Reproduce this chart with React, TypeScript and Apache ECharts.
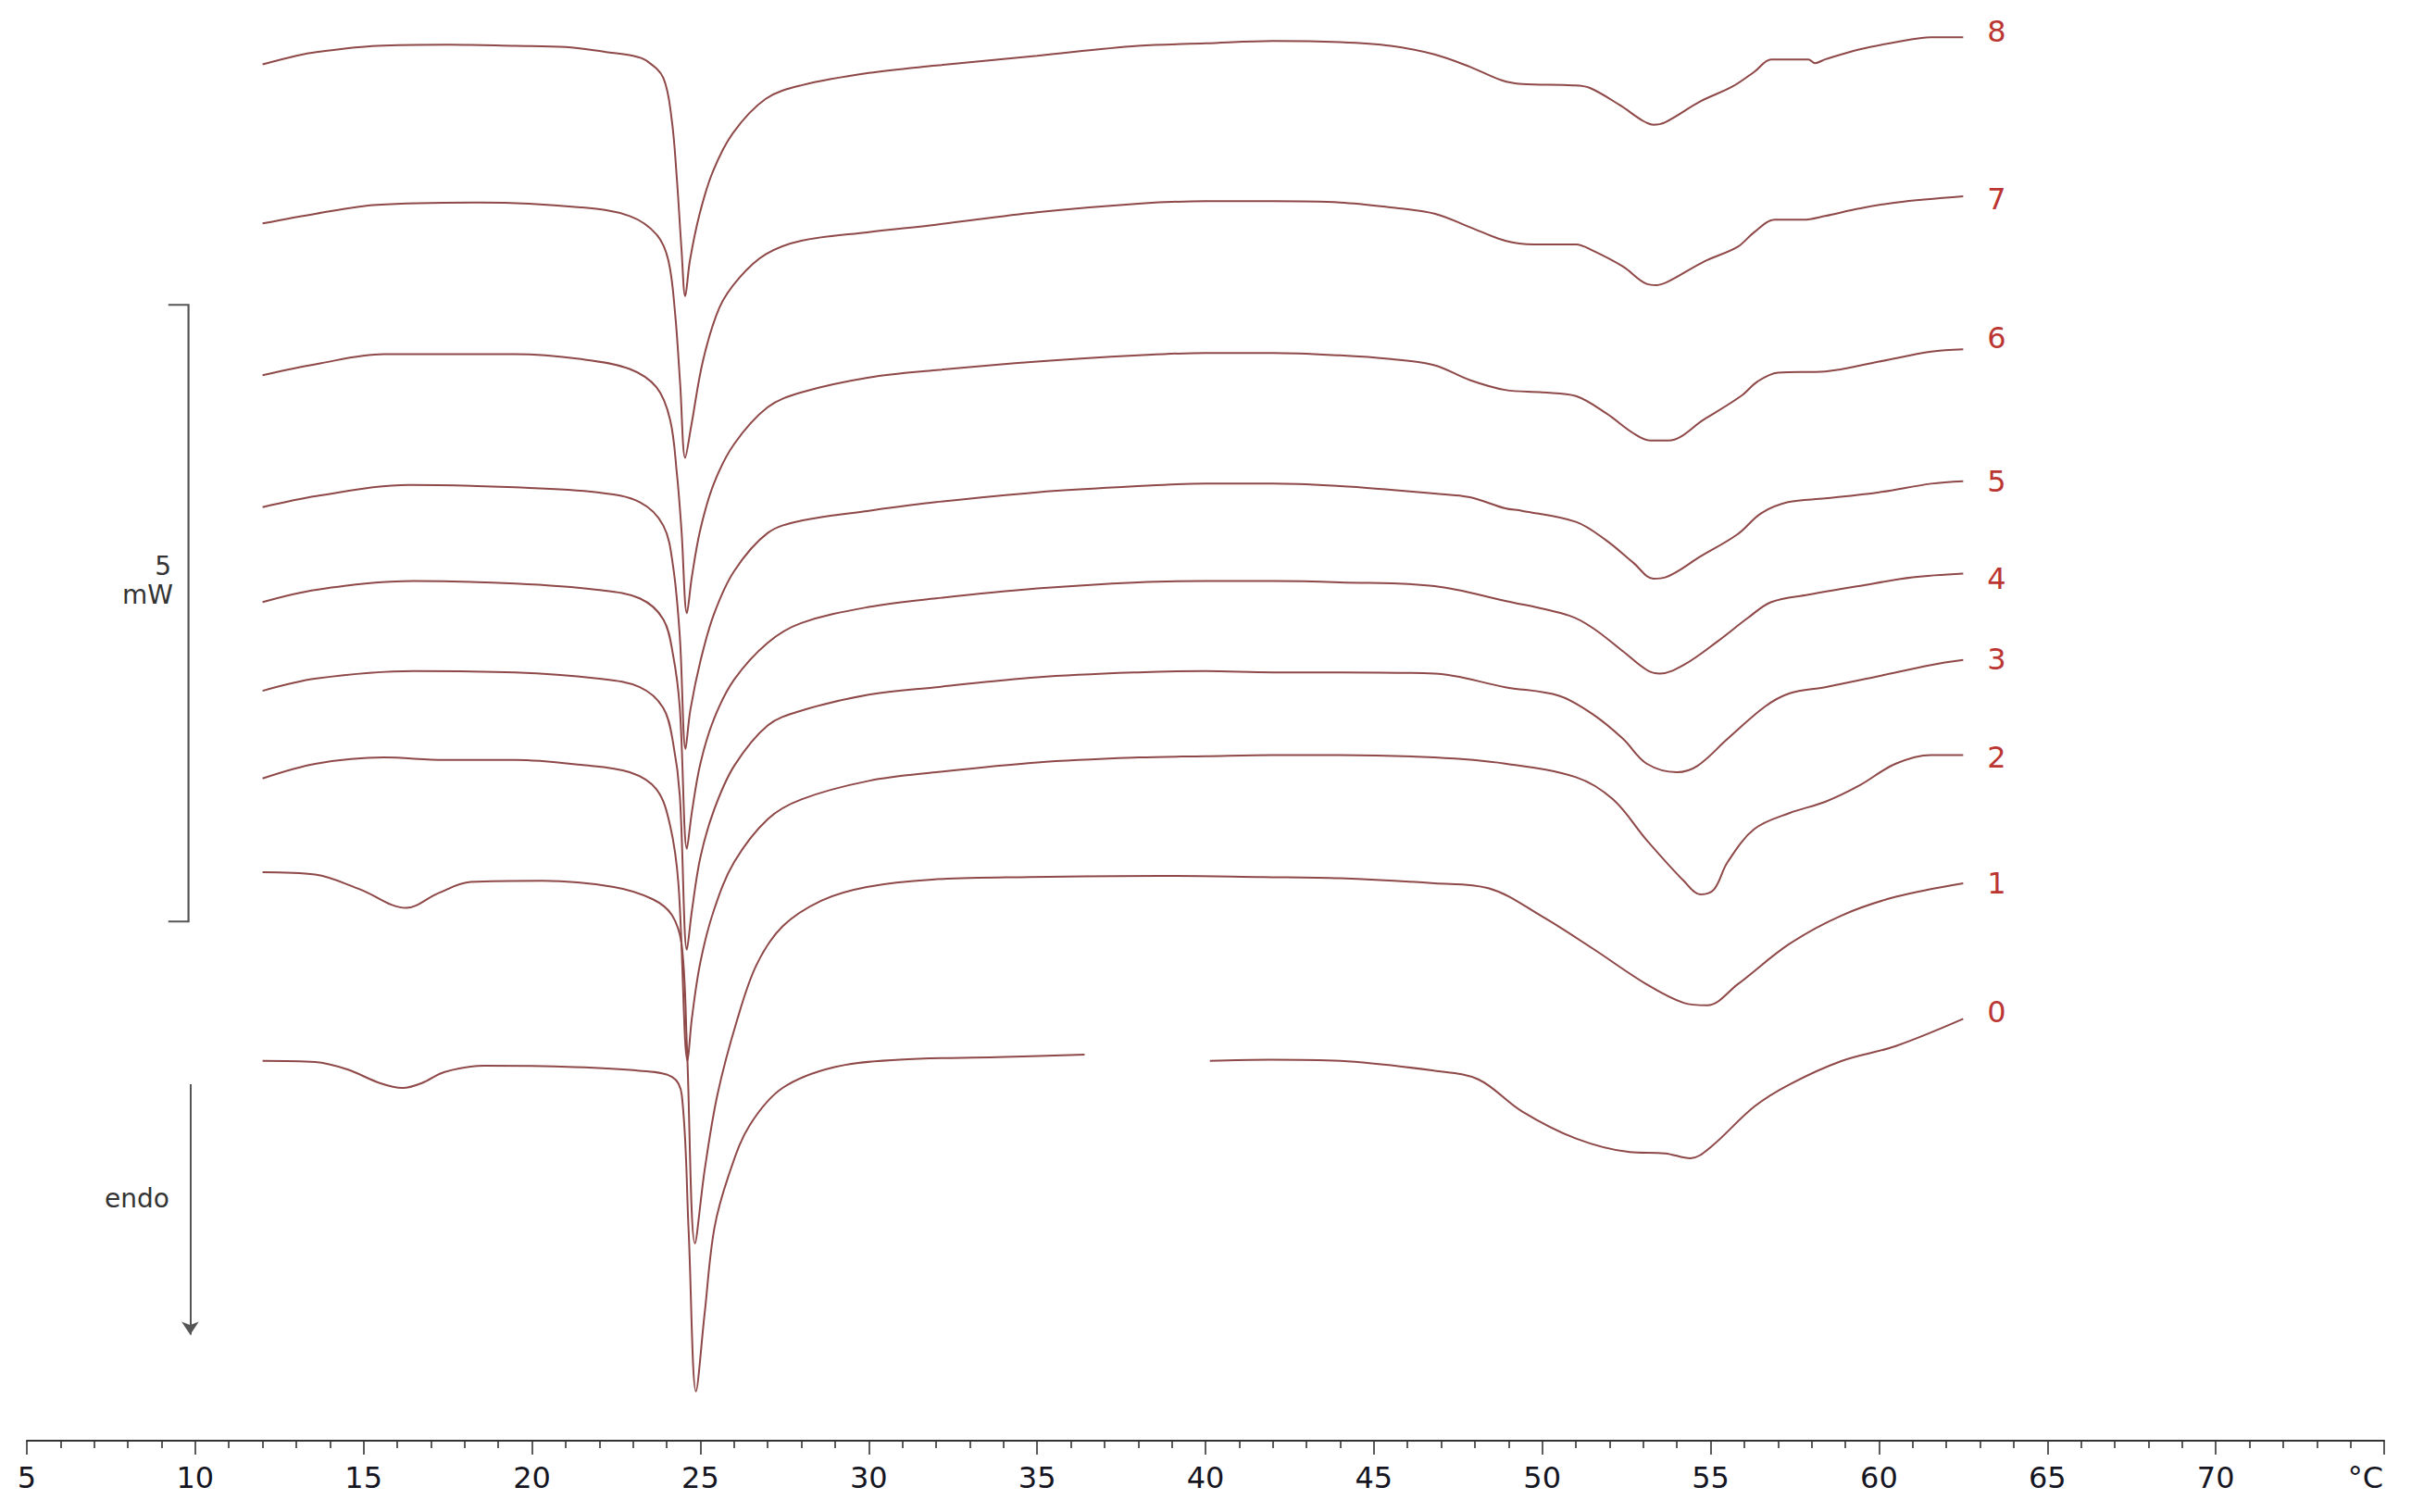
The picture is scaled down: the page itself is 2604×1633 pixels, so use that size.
import React, { useEffect, useRef } from "react";
import * as echarts from "echarts";

// Temperature (°C) vs heat flow (mW, curves stacked with offsets)
const curve8: (number | null)[][] = [[12,11.16],[13,11.23],[13.6,11.26],[15.4,11.31],[17.5,11.32],[19.5,11.31],[21,11.30],[22.2,11.26],[23,11.23],[23.4,11.19],[23.9,11.05],[24.15,10.71],[24.3,10.24],[24.44,9.66],[24.55,9.28],[24.69,9.57],[24.98,9.95],[25.37,10.29],[25.96,10.60],[26.94,10.88],[28,10.99],[30,11.09],[32,11.15],[35,11.23],[38,11.31],[40,11.33],[42,11.35],[44,11.34],[45.5,11.31],[46.8,11.24],[47.85,11.14],[48.8,11.03],[49.4,11.00],[50.9,10.99],[51.4,10.97],[52.3,10.83],[53,10.70],[53.3,10.67],[53.65,10.69],[54.7,10.86],[55.65,10.98],[56.3,11.10],[56.8,11.20],[57.9,11.20],[58.1,11.17],[58.4,11.20],[59.4,11.28],[60.5,11.34],[61.55,11.38],[62.5,11.38]];
const curve7: (number | null)[][] = [[12,9.87],[13.6,9.95],[15.4,10.02],[18.5,10.04],[21.45,10.00],[22.9,9.93],[23.7,9.78],[24.05,9.57],[24.25,9.14],[24.4,8.57],[24.55,7.97],[24.73,8.23],[25.08,8.76],[25.57,9.19],[26.16,9.43],[26.94,9.62],[28,9.73],[30,9.80],[32,9.86],[35,9.96],[38,10.03],[40,10.05],[42,10.05],[44,10.04],[45.5,10.00],[46.8,9.95],[47.85,9.84],[48.9,9.73],[49.75,9.70],[51,9.70],[51.5,9.65],[52.4,9.52],[53.1,9.38],[53.4,9.37],[53.75,9.40],[54.8,9.56],[55.8,9.68],[56.3,9.80],[56.9,9.90],[57.75,9.90],[58.4,9.93],[59.4,9.99],[60.5,10.04],[62.5,10.09]];
const curve6: (number | null)[][] = [[12,8.64],[13.6,8.73],[15.6,8.81],[19.5,8.81],[21.45,8.77],[22.9,8.69],[23.7,8.54],[24.1,8.28],[24.3,7.85],[24.44,7.38],[24.6,6.71],[24.75,7.01],[25,7.39],[25.4,7.76],[26,8.08],[27,8.38],[28,8.50],[30,8.62],[32,8.68],[35,8.75],[38,8.80],[40,8.82],[42,8.82],[44,8.80],[45.5,8.77],[46.8,8.72],[47.85,8.60],[48.9,8.52],[50,8.50],[51,8.47],[51.9,8.33],[52.7,8.17],[53.2,8.11],[53.75,8.11],[54.8,8.28],[55.9,8.47],[56.4,8.59],[57,8.66],[58.4,8.67],[60,8.75],[61.55,8.83],[62.5,8.85]];
const curve5: (number | null)[][] = [[12,7.57],[13.6,7.66],[16.35,7.75],[19.5,7.73],[21.94,7.69],[23.2,7.61],[23.9,7.42],[24.19,7.09],[24.39,6.52],[24.56,5.61],[24.7,5.92],[25,6.32],[25.4,6.70],[26,7.05],[27,7.36],[28,7.46],[30,7.54],[32,7.61],[35,7.69],[38,7.74],[40,7.76],[42,7.76],[44,7.74],[45.5,7.71],[46.8,7.68],[47.85,7.65],[48.9,7.56],[49.4,7.54],[51,7.45],[51.9,7.30],[52.7,7.12],[53.3,6.99],[53.65,7.00],[54.7,7.17],[55.8,7.35],[56.5,7.52],[57.3,7.61],[58.4,7.64],[60,7.69],[61.55,7.76],[62.5,7.78]];
const curve4: (number | null)[][] = [[12,6.80],[13.6,6.90],[16.5,6.97],[19.5,6.95],[21.94,6.90],[23.2,6.83],[23.9,6.66],[24.19,6.37],[24.39,5.94],[24.6,4.80],[24.75,5.10],[25,5.49],[25.4,5.85],[26,6.17],[27,6.47],[28,6.63],[30,6.76],[32,6.83],[35,6.91],[38,6.96],[40,6.97],[42,6.97],[44,6.96],[46.8,6.93],[48.9,6.81],[50.8,6.69],[51.5,6.59],[52.4,6.40],[53.1,6.25],[53.5,6.22],[54.2,6.29],[55.2,6.48],[56.1,6.67],[56.8,6.80],[57.9,6.86],[59.4,6.93],[61,7.00],[62.5,7.03]];
const curve3: (number | null)[][] = [[12,6.08],[13.6,6.18],[16.5,6.24],[19.5,6.23],[21.94,6.18],[23.2,6.11],[23.9,5.94],[24.19,5.66],[24.39,5.23],[24.6,3.98],[24.75,4.30],[25,4.73],[25.4,5.11],[26,5.47],[27,5.80],[28,5.92],[30,6.05],[32,6.11],[35,6.19],[38,6.23],[40,6.24],[42,6.23],[44,6.23],[46.8,6.22],[48.9,6.11],[50.5,6.04],[51.5,5.89],[52.4,5.69],[53.1,5.49],[54,5.42],[54.6,5.47],[55.5,5.69],[56.6,5.95],[57.35,6.06],[58.4,6.11],[60,6.20],[61.55,6.29],[62.5,6.33]];
const curve2: (number | null)[][] = [[12,5.37],[13.6,5.49],[15.6,5.54],[17.4,5.52],[19.5,5.52],[21.45,5.48],[22.9,5.42],[23.7,5.28],[24.1,4.99],[24.35,4.51],[24.62,3.08],[24.75,3.43],[25,3.88],[25.4,4.30],[26,4.69],[27,5.04],[28,5.20],[30,5.35],[32,5.42],[35,5.50],[38,5.54],[40,5.55],[42,5.56],[44,5.56],[46.8,5.54],[48.9,5.49],[51,5.38],[52.1,5.20],[53.1,4.87],[54.2,4.54],[54.7,4.43],[55.1,4.47],[55.5,4.69],[56.3,4.96],[57.35,5.09],[58.4,5.18],[59.4,5.31],[60.5,5.49],[61.55,5.56],[62.5,5.56]];
const curve1: (number | null)[][] = [[12,4.61],[13.56,4.59],[14.9,4.47],[16.26,4.32],[17.22,4.44],[18.18,4.53],[20.31,4.54],[22.43,4.49],[23.59,4.39],[24.16,4.26],[24.45,4.01],[24.6,3.20],[24.84,1.60],[25.13,2.20],[25.51,2.81],[26.09,3.41],[26.67,3.86],[27.44,4.17],[28.6,4.38],[29.94,4.49],[31.88,4.55],[34.77,4.57],[38.63,4.58],[41.7,4.57],[44,4.56],[46.8,4.52],[48.4,4.48],[50,4.25],[51.5,3.99],[53.1,3.70],[54.2,3.55],[54.9,3.53],[55.8,3.70],[57.35,4.03],[58.9,4.26],[60.5,4.41],[62.5,4.52]];
const curve0: (number | null)[][] = [[12,3.08],[13.56,3.07],[14.52,3.01],[15.48,2.90],[16.16,2.86],[16.73,2.90],[17.41,2.99],[18.57,3.04],[21.26,3.03],[23.19,3.00],[24.16,2.95],[24.45,2.80],[24.65,1.71],[24.87,0.40],[25.13,1.04],[25.42,1.73],[25.9,2.20],[26.47,2.56],[27.44,2.86],[28.98,3.03],[30.91,3.09],[33.8,3.11],[36.41,3.13],[38,null],[40.13,3.08],[41.9,3.09],[44,3.08],[46.8,3.00],[48.1,2.93],[49.4,2.67],[51,2.45],[52.6,2.34],[53.65,2.33],[54.4,2.29],[55,2.38],[56.3,2.71],[57.35,2.89],[58.9,3.08],[60.5,3.20],[62.5,3.42]];

const curveNames = ["8", "7", "6", "5", "4", "3", "2", "1", "0"];
const curves = [curve8, curve7, curve6, curve5, curve4, curve3, curve2, curve1, curve0];

// x axis: temperature in °C
const xMin = 5;
const xMax = 75;
const xStep = 5;
const unitLabel = "°C";

// scale bar (5 mW) and endo arrow, in axis units
const scaleBarX = 9.8;
const scaleBarTickX = 9.2;
const scaleBarBottom = 4.21;
const scaleBarSpan = 5;
const endoArrowX = 9.85;
const endoArrowFrom = 2.89;
const endoArrowTo = 0.86;

// label vertical nudges (px) — style only
const labelNudge = [-6, 3, -12, 0, 5, -1, 3, 0, -7];

const LINE_COLOR = "#8f4848";
const LABEL_RED = "#bb3532";
const INK = "#15151f";

export default function App() {
  const ref = useRef<HTMLDivElement>(null);

  useEffect(() => {
    if (!ref.current) return;
    const chart = echarts.init(ref.current, undefined, { renderer: "svg" });

    const curveSeries = curves.map((data, i) => ({
      type: "line",
      name: curveNames[i],
      data,
      showSymbol: false,
      symbol: "none",
      smooth: 0.35,
      connectNulls: false,
      lineStyle: { color: LINE_COLOR, width: 2 },
      itemStyle: { color: LINE_COLOR },
      endLabel: {
        show: true,
        formatter: "{a}",
        distance: 26,
        offset: [0, labelNudge[i]],
        color: LABEL_RED,
        fontSize: 32,
        fontFamily: "'DejaVu Sans', sans-serif",
      },
      z: 3,
    }));

    const option: any = {
      animation: false,
      backgroundColor: "#ffffff",
      grid: { left: 29, right: 29, top: 24.2, bottom: 77, containLabel: false },
      xAxis: {
        type: "value",
        min: xMin,
        max: xMax,
        interval: xStep,
        axisLine: { show: true, lineStyle: { color: "#333333", width: 2 } },
        axisTick: { show: true, length: 15, lineStyle: { color: "#333333", width: 1.6 } },
        minorTick: { show: true, splitNumber: 5, length: 8, lineStyle: { color: "#333333", width: 1.6 } },
        splitLine: { show: false },
        minorSplitLine: { show: false },
        axisLabel: {
          show: true,
          margin: 24,
          color: INK,
          fontSize: 32,
          fontFamily: "'DejaVu Sans', sans-serif",
          showMinLabel: true,
          showMaxLabel: true,
          formatter: (v: number) => (v === xMax ? "{u|" + unitLabel + "}" : String(v)),
          rich: {
            u: { color: INK, fontSize: 32, fontFamily: "'DejaVu Sans', sans-serif", padding: [0, 40, 0, 0] },
          },
        },
      },
      yAxis: {
        type: "value",
        min: 0,
        max: 11.5,
        show: false,
        splitLine: { show: false },
      },
      series: [
        ...curveSeries,
        {
          type: "lines",
          coordinateSystem: "cartesian2d",
          polyline: true,
          silent: true,
          symbol: "none",
          lineStyle: { color: "#555555", width: 2.2, opacity: 1 },
          data: [
            {
              coords: [
                [scaleBarTickX, scaleBarBottom + scaleBarSpan],
                [scaleBarX, scaleBarBottom + scaleBarSpan],
                [scaleBarX, scaleBarBottom],
                [scaleBarTickX, scaleBarBottom],
              ],
            },
          ],
        },
        {
          type: "lines",
          coordinateSystem: "cartesian2d",
          silent: true,
          symbol: ["none", "arrow"],
          symbolSize: [10, 14],
          lineStyle: { color: "#555555", width: 2, opacity: 1 },
          data: [{ coords: [[endoArrowX, endoArrowFrom], [endoArrowX, endoArrowTo]] }],
        },
      ],
      graphic: [
        {
          type: "text",
          x: 185,
          y: 611,
          style: { text: "5", fill: "#333", fontSize: 28, fontFamily: "'DejaVu Sans', sans-serif", align: "right", verticalAlign: "middle" },
        },
        {
          type: "text",
          x: 187,
          y: 642,
          style: { text: "mW", fill: "#333", fontSize: 28, fontFamily: "'DejaVu Sans', sans-serif", align: "right", verticalAlign: "middle" },
        },
        {
          type: "text",
          x: 148,
          y: 1294,
          style: { text: "endo", fill: "#333", fontSize: 28, fontFamily: "'DejaVu Sans', sans-serif", align: "center", verticalAlign: "middle" },
        },
      ],
    };

    chart.setOption(option);
    return () => chart.dispose();
  }, []);

  return (
    <div
      ref={ref}
      style={{ position: "absolute", left: 0, top: 0, width: 2604, height: 1633, background: "#fff" }}
    />
  );
}
